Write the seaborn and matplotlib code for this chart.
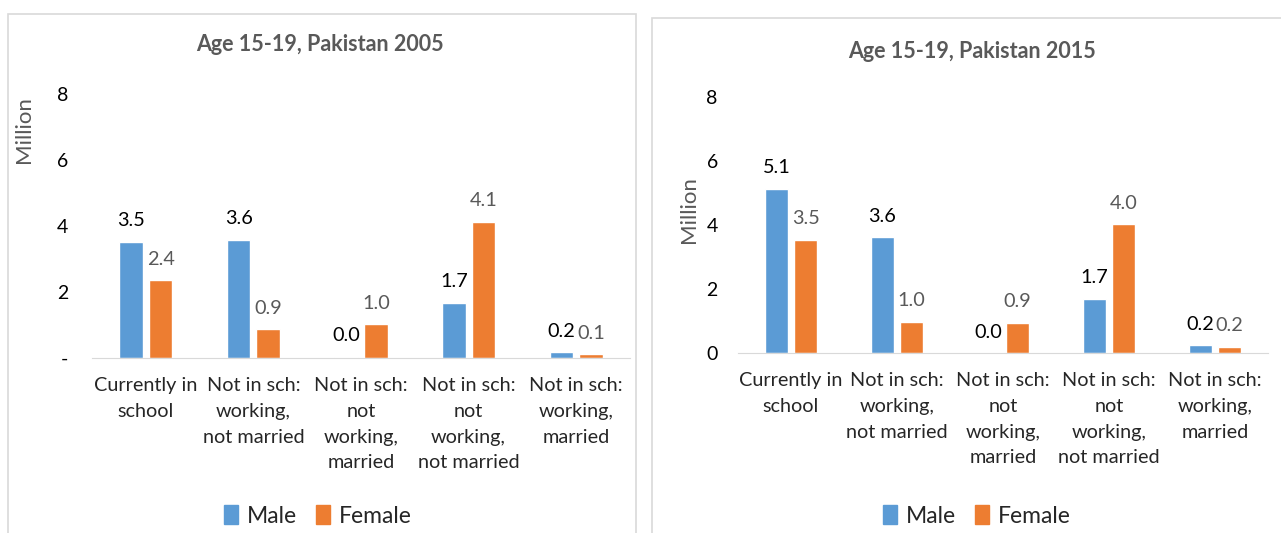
import pandas as pd
import matplotlib.pyplot as plt
import seaborn as sns
from matplotlib.patches import Rectangle

# Data
categories = ['Currently in\nschool', 'Not in sch:\nworking,\nnot married',
              'Not in sch:\nnot\nworking,\nmarried', 'Not in sch:\nnot\nworking,\nnot married',
              'Not in sch:\nworking,\nmarried']
male_2005 = [3.52, 3.58, 0.04, 1.68, 0.17]
female_2005 = [2.36, 0.87, 1.02, 4.13, 0.12]
male_2015 = [5.14, 3.61, 0.0, 1.69, 0.24]
female_2015 = [3.54, 0.97, 0.94, 4.03, 0.19]
yticks = [0, 2, 4, 6, 8]
ytick_labels_2005 = ['-', '2', '4', '6', '8']
ytick_labels_2015 = ['0', '2', '4', '6', '8']
titles = ['Age 15-19, Pakistan 2005', 'Age 15-19, Pakistan 2015']

BLUE = '#5B9BD5'
ORANGE = '#ED7D31'
GREY = '#595959'

sns.set_style('white')
plt.rcParams['font.family'] = ['Lato', 'DejaVu Sans']

W, H = 1281, 533
fig = plt.figure(figsize=(W / 100, H / 100), dpi=100)


def px_axes(x0, x1, ytop, ybot):
    return fig.add_axes([x0 / W, 1 - ybot / H, (x1 - x0) / W, (ybot - ytop) / H])


def draw_panel(ax, male, female, ylabels, title, title_xy, ylab_xy, legend_xy, ypad):
    df = pd.DataFrame({
        'category': categories * 2,
        'sex': ['Male'] * len(categories) + ['Female'] * len(categories),
        'value': male + female,
    })
    sns.barplot(data=df, x='category', y='value', hue='sex', order=categories,
                hue_order=['Male', 'Female'], palette=[BLUE, ORANGE],
                width=0.55, gap=0.2, ax=ax, legend=False, saturation=1)
    ax.set_ylim(0, 8)
    ax.set_yticks(yticks)
    ax.set_yticklabels(ylabels, fontsize=14, color='black')
    ax.tick_params(axis='y', length=0, pad=ypad)
    ax.tick_params(axis='x', length=0, pad=14, labelsize=14.3)
    for lab in ax.get_xticklabels():
        lab.set_linespacing(1.62)
        lab.set_verticalalignment('top')
    for s in ['top', 'right', 'left']:
        ax.spines[s].set_visible(False)
    ax.spines['bottom'].set_color('#D9D9D9')
    ax.set_xlabel('')
    ax.set_ylabel('Million', fontsize=16, color=GREY)
    ax.yaxis.set_label_coords(*ylab_xy)

    for cont, vals, col in zip(ax.containers, [male, female], ['black', GREY]):
        ax.bar_label(cont, labels=[f'{v:.1f}' for v in vals], padding=9,
                     fontsize=14.3, color=col)

    fig.text(title_xy[0] / W, 1 - title_xy[1] / H, title, ha='center', va='center',
             fontsize=15.5, fontweight='bold', color=GREY)

    handles = [Rectangle((0, 0), 1, 1, color=BLUE), Rectangle((0, 0), 1, 1, color=ORANGE)]
    ax.legend(handles, ['Male', 'Female'], loc='center',
              bbox_to_anchor=(legend_xy[0] / W, 1 - legend_xy[1] / H),
              bbox_transform=fig.transFigure, ncol=2, frameon=False,
              fontsize=16.5, handlelength=0.6, handleheight=0.9,
              handletextpad=0.4, columnspacing=0.8)


ax1 = px_axes(92, 630, 94, 358)
draw_panel(ax1, male_2005, female_2005, ytick_labels_2005, titles[0],
           (320, 45), (-0.108, 0.864), (318, 516), 17)

ax2 = px_axes(738, 1268, 97, 353)
draw_panel(ax2, male_2015, female_2015, ytick_labels_2015, titles[1],
           (972, 52), (-0.074, 0.56), (977, 516), 14.5)

# panel frames
fig.patches.append(Rectangle((8 / W, -0.01), 628 / W, 1 - 14 / H + 0.01,
                             transform=fig.transFigure, fill=False,
                             edgecolor='#D9D9D9', lw=1.2))
fig.patches.append(Rectangle((652 / W, -0.01), 640 / W, 1 - 18 / H + 0.01,
                             transform=fig.transFigure, fill=False,
                             edgecolor='#D9D9D9', lw=1.2))

fig.savefig('out.png', dpi=100)
